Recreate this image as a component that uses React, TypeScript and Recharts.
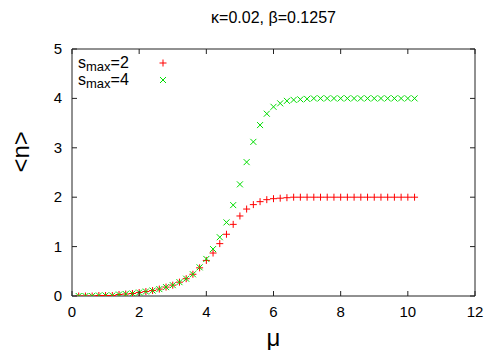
import { ScatterChart, Scatter, XAxis, YAxis, Legend } from 'recharts'

const muValues = [
  0.2, 0.4, 0.6, 0.8, 1.0, 1.2, 1.4, 1.6, 1.8, 2.0,
  2.2, 2.4, 2.6, 2.8, 3.0, 3.2, 3.4, 3.6, 3.8, 4.0,
  4.2, 4.4, 4.6, 4.8, 5.0, 5.2, 5.4, 5.6, 5.8, 6.0,
  6.2, 6.4, 6.6, 6.8, 7.0, 7.2, 7.4, 7.6, 7.8, 8.0,
  8.2, 8.4, 8.6, 8.8, 9.0, 9.2, 9.4, 9.6, 9.8, 10.0, 10.2,
]

// <n> for s_max = 2
const nSmax2 = [
  0, 0, 0, 0.01, 0.01, 0.01, 0.03, 0.04, 0.05, 0.07,
  0.09, 0.11, 0.14, 0.18, 0.22, 0.28, 0.35, 0.44, 0.57, 0.72,
  0.87, 1.06, 1.25, 1.45, 1.62, 1.76, 1.85, 1.91, 1.95, 1.97,
  1.98, 1.99, 2, 2, 2, 2, 2, 2, 2, 2,
  2, 2, 2, 2, 2, 2, 2, 2, 2, 2, 2,
]

// <n> for s_max = 4
const nSmax4 = [
  0, 0, 0, 0.01, 0.01, 0.01, 0.03, 0.04, 0.05, 0.07,
  0.09, 0.11, 0.14, 0.18, 0.22, 0.28, 0.35, 0.44, 0.58, 0.75,
  0.95, 1.19, 1.49, 1.84, 2.26, 2.71, 3.12, 3.46, 3.69, 3.83,
  3.9, 3.95, 3.97, 3.98, 3.99, 4, 4, 4, 4, 4,
  4, 4, 4, 4, 4, 4, 4, 4, 4, 4, 4,
]

const xTicks = [0, 2, 4, 6, 8, 10, 12]
const yTicks = [0, 1, 2, 3, 4, 5]

const data2 = muValues.map((mu, i) => ({ mu, n: nSmax2[i] }))
const data4 = muValues.map((mu, i) => ({ mu, n: nSmax4[i] }))

const RED = '#ff0000'
const GREEN = '#00dd00'
const FRAME = '#222'
const FONT = '"Liberation Sans", Arial, sans-serif'
const TICK = 5

const PlusMark = ({ cx, cy }: any) => (
  <g stroke={RED} strokeWidth={1}>
    <line x1={cx - 3.5} y1={cy} x2={cx + 3.5} y2={cy} />
    <line x1={cx} y1={cy - 3.5} x2={cx} y2={cy + 3.5} />
  </g>
)

const CrossMark = ({ cx, cy }: any) => (
  <g stroke={GREEN} strokeWidth={1}>
    <line x1={cx - 3} y1={cy - 3} x2={cx + 3} y2={cy + 3} />
    <line x1={cx - 3} y1={cy + 3} x2={cx + 3} y2={cy - 3} />
  </g>
)

// gnuplot style: ticks point into the plot on all four sides
const BottomTick = ({ x, y, payload }: any) => (
  <g>
    <line x1={x} y1={y} x2={x} y2={y - TICK} stroke={FRAME} />
    <text x={x} y={y + 21} textAnchor="middle" fontSize={15} fontFamily={FONT} fill="#000">
      {payload.value}
    </text>
  </g>
)

const LeftTick = ({ x, y, payload }: any) => (
  <g>
    <line x1={x} y1={y} x2={x + TICK} y2={y} stroke={FRAME} />
    <text x={x - 10} y={y + 5} textAnchor="end" fontSize={15} fontFamily={FONT} fill="#000">
      {payload.value}
    </text>
  </g>
)

const TopTick = ({ x, y }: any) => <line x1={x} y1={y} x2={x} y2={y + TICK} stroke={FRAME} />

const RightTick = ({ x, y }: any) => <line x1={x} y1={y} x2={x - TICK} y2={y} stroke={FRAME} />

const LegendBox = () => {
  const rows = [
    { label: '2', mark: 'plus' },
    { label: '4', mark: 'cross' },
  ]
  return (
    <div style={{ fontFamily: FONT, fontSize: 16, color: '#000', lineHeight: '17px' }}>
      {rows.map(r => (
        <div key={r.label} style={{ display: 'flex', alignItems: 'center', height: 17 }}>
          <span style={{ width: 80, whiteSpace: 'nowrap' }}>
            s<span style={{ fontSize: 13, position: 'relative', top: 3 }}>max</span>={r.label}
          </span>
          <svg width={10} height={10}>
            {r.mark === 'plus' ? <PlusMark cx={5} cy={5} /> : <CrossMark cx={5} cy={5} />}
          </svg>
        </div>
      ))}
    </div>
  )
}

export default function App() {
  return (
    <div style={{ position: 'absolute', left: 0, top: 0, width: 500, height: 350, background: '#fff' }}>
      <div
        style={{
          position: 'absolute', left: 72, width: 403, top: 9, textAlign: 'center',
          fontFamily: FONT, fontSize: 16, color: '#000',
        }}
      >
        κ=0.02, β=0.1257
      </div>
      <ScatterChart width={500} height={350} margin={{ top: 49, right: 25, left: 0, bottom: 0 }}>
        <XAxis
          xAxisId="x" type="number" dataKey="mu" domain={[0, 12]} allowDataOverflow ticks={xTicks} height={54}
          tickLine={false} tickSize={0} tickMargin={0} axisLine={{ stroke: FRAME }} tick={<BottomTick />}
          label={{ value: 'μ', position: 'insideBottom', offset: 4, fontSize: 24, fill: '#000', fontFamily: FONT }}
        />
        <YAxis
          yAxisId="y" type="number" dataKey="n" domain={[0, 5]} allowDataOverflow ticks={yTicks} width={72}
          tickLine={false} tickSize={0} tickMargin={0} axisLine={{ stroke: FRAME }} tick={<LeftTick />}
          label={{ value: '<n>', angle: -90, position: 'insideLeft', offset: 20, fontSize: 24, fill: '#000', fontFamily: FONT }}
        />
        <XAxis
          xAxisId="xt" type="number" dataKey="mu" orientation="top" mirror domain={[0, 12]} allowDataOverflow
          ticks={xTicks} tickLine={false} tickSize={0} tickMargin={0} axisLine={{ stroke: FRAME }} tick={<TopTick />}
        />
        <YAxis
          yAxisId="yr" type="number" dataKey="n" orientation="right" mirror domain={[0, 5]} allowDataOverflow
          ticks={yTicks} tickLine={false} tickSize={0} tickMargin={0} axisLine={{ stroke: FRAME }} tick={<RightTick />}
        />
        <Legend
          layout="vertical" align="center" verticalAlign="middle"
          wrapperStyle={{ position: 'absolute', left: 78, top: 54, width: 110 }}
          content={<LegendBox />}
        />
        <Scatter
          name="smax=2" data={data2} xAxisId="x" yAxisId="y" dataKey="n"
          shape={<PlusMark />} isAnimationActive={false}
        />
        <Scatter
          name="smax=4" data={data4} xAxisId="xt" yAxisId="yr" dataKey="n"
          shape={<CrossMark />} isAnimationActive={false}
        />
      </ScatterChart>
    </div>
  )
}
